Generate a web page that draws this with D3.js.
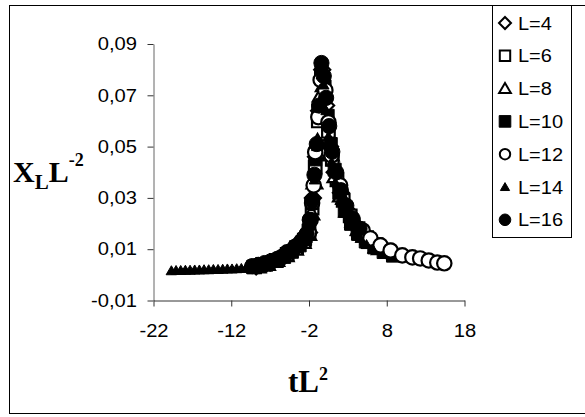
<!DOCTYPE html>
<html><head><meta charset="utf-8">
<script src="https://cdn.jsdelivr.net/npm/d3@7"></script>
<style>body{margin:0;background:#fff}svg{display:block}</style>
</head><body>
<svg id="c" width="585" height="417"></svg>
<script>
// ---------- data ----------
const xTicks = [-22, -12, -2, 8, 18];
const xTickLabels = ["-22", "-12", "-2", "8", "18"];
const yTicks = [-0.01, 0.01, 0.03, 0.05, 0.07, 0.09];
const yTickLabels = ["-0,01", "0,01", "0,03", "0,05", "0,07", "0,09"];
const seriesNames = ["L=4", "L=6", "L=8", "L=10", "L=12", "L=14", "L=16"];

const L4 = [[-8.8,.0033],[-7.0,.0048],[-5.2,.0072],[-3.8,.0100],[-2.7,.0128],[-2.0,.0165],[-1.5,.0300],[-1.1,.0460],[-0.7,.0640],[-0.3,.0800],[0.2,.0660],[0.7,.0500],[1.3,.0400],[2.1,.0320],[3.0,.0250],[4.1,.0190],[5.3,.0150],[6.6,.0118],[8.0,.0094]];
const L6 = [[-9.0,.0031],[-7.6,.0041],[-6.2,.0056],[-4.8,.0080],[-3.6,.0106],[-2.6,.0135],[-2.0,.0170],[-1.6,.0260],[-1.2,.0420],[-0.8,.0600],[-0.4,.0770],[0.0,.0700],[0.5,.0560],[1.0,.0450],[1.6,.0370],[2.4,.0290],[3.3,.0230],[4.3,.0180],[5.4,.0145],[6.6,.0118],[7.9,.0096]];
const L8 = [[-8.6,.0033],[-7.4,.0043],[-6.2,.0058],[-5.0,.0077],[-3.8,.0102],[-2.8,.0128],[-2.1,.0160],[-1.7,.0240],[-1.3,.0360],[-0.9,.0520],[-0.5,.0700],[-0.1,.0740],[0.3,.0620],[0.8,.0470],[1.4,.0385],[2.1,.0310],[2.9,.0250],[3.8,.0200],[4.8,.0160],[5.9,.0128],[7.1,.0104]];
const L10 = [[-9.2,.0030],[-8.2,.0036],[-7.2,.0045],[-6.2,.0056],[-5.2,.0070],[-4.2,.0090],[-3.2,.0115],[-2.5,.0140],[-2.0,.0175],[-1.6,.0280],[-1.2,.0450],[-0.8,.0640],[-0.4,.0790],[0.0,.0735],[0.4,.0620],[0.8,.0510],[1.3,.0410],[1.9,.0320],[2.6,.0250],[3.4,.0200],[4.3,.0160],[5.3,.0130],[6.4,.0107],[7.6,.0089],[8.8,.0075]];
const L12 = [[-4.8,.0088],[-3.8,.0108],[-3.0,.0130],[-2.4,.0150],[-2.0,.0165],[-1.8,.0213],[-1.6,.0280],[-1.4,.0349],[-1.2,.0478],[-0.8,.0615],[-0.5,.0760],[0.1,.0720],[0.5,.0595],[0.9,.0466],[2.0,.0349],[3.6,.0213],[4.9,.0173],[5.9,.0142],[7.2,.0115],[8.5,.0095],[10.0,.0076],[11.3,.0068],[12.3,.0064],[13.4,.0056],[14.5,.0048],[15.4,.0045]];
const L14 = [[-19.7,.0016],[-19.1,.0017],[-18.5,.0017],[-17.9,.0018],[-17.3,.0018],[-16.7,.0019],[-16.1,.0019],[-15.5,.0020],[-14.9,.0020],[-14.3,.0021],[-13.7,.0021],[-13.1,.0022],[-12.5,.0023],[-11.9,.0023],[-11.3,.0024],[-10.7,.0025],[-10.1,.0027],[-9.5,.0028],[-8.9,.0032],[-8.3,.0037],[-7.7,.0043],[-7.1,.0049],[-6.5,.0055],[-5.9,.0063],[-5.3,.0072],[-4.7,.0084],[-4.1,.0097],[-3.5,.0111],[-2.9,.0128],[-2.3,.0150],[-1.9,.0190],[-1.6,.0270],[-1.3,.0370],[-1.0,.0500],[-0.7,.0650],[-0.4,.0780],[-0.1,.0740],[0.2,.0640],[0.5,.0540],[0.9,.0440],[1.4,.0360],[2.0,.0290],[2.6,.0240],[3.2,.0200],[3.9,.0168],[4.6,.0142],[5.4,.0118],[6.2,.0100]];
const L16 = [[-9.3,.0034],[-8.5,.0039],[-7.7,.0046],[-6.9,.0053],[-6.1,.0062],[-5.3,.0074],[-4.5,.0090],[-3.7,.0110],[-2.9,.0134],[-2.3,.0160],[-1.9,.0215],[-1.6,.0290],[-1.3,.0390],[-1.0,.0510],[-0.7,.0660],[-0.4,.0826],[-0.1,.0775],[0.2,.0690],[0.6,.0580],[1.0,.0480],[1.5,.0400],[2.1,.0330],[2.8,.0270],[3.6,.0220],[4.5,.0180]];
const seriesData = [L4, L6, L8, L10, L12, L14, L16];

// ---------- styles ----------
const shapes = {
  diamond: r => `M0,${-r}L${r},0L0,${r}L${-r},0Z`,
  square: r => `M${-r},${-r}H${r}V${r}H${-r}Z`,
  triangle: r => `M0,${-r}L${r*1.05},${r*0.8}L${-r*1.05},${r*0.8}Z`,
  circle: r => `M${r},0A${r},${r} 0 1,1 ${-r},0A${r},${r} 0 1,1 ${r},0Z`
};
const styles = [
  {shape:"diamond", r:8, lr:6, fill:"#fff", sw:2.2},
  {shape:"square", r:6.3, lr:5.2, fill:"#fff", sw:2.2},
  {shape:"triangle", r:7.5, lr:5.6, fill:"#fff", sw:2.2},
  {shape:"square", r:6.5, lr:5.8, fill:"#000", sw:1},
  {shape:"circle", r:7.2, lr:5.2, fill:"#fff", sw:2.2},
  {shape:"triangle", r:5, lr:4.4, fill:"#000", sw:1},
  {shape:"circle", r:7.6, lr:5.8, fill:"#000", sw:1}
];

const svg = d3.select("#c");
const sans = "'Liberation Sans', Arial, Helvetica, sans-serif";
const serif = "'Liberation Serif', 'Times New Roman', serif";
function stretch(sel, f) {
  sel.each(function () {
    const w = this.getComputedTextLength();
    this.setAttribute("textLength", w * f);
    this.setAttribute("lengthAdjust", "spacingAndGlyphs");
  });
}

// frame
svg.append("rect").attr("x", 9.5).attr("y", 5.5).attr("width", 600).attr("height", 408)
  .attr("fill", "#fff").attr("stroke", "#000").attr("stroke-width", 1);

const x = d3.scaleLinear().domain([-22, 18]).range([153.5, 464.5]);
const y = d3.scaleLinear().domain([-0.01, 0.09]).range([300.5, 44]);

// axes
const gy = svg.append("g").attr("transform", `translate(${x(-22)},0)`)
  .call(d3.axisLeft(y).tickValues(yTicks).tickFormat((d, i) => yTickLabels[i]).tickSize(6).tickSizeOuter(0).tickPadding(10.5));
const gx = svg.append("g").attr("transform", `translate(0,${y(-0.01)})`)
  .call(d3.axisBottom(x).tickValues(xTicks).tickFormat((d, i) => xTickLabels[i]).tickSize(6).tickSizeOuter(0));
[gx, gy].forEach(g => {
  g.selectAll("path,line").attr("stroke", "#333").attr("stroke-width", 1);
  g.selectAll("text").attr("fill", "#000").style("font-family", sans).style("font-size", "18px");
});
gy.select(".domain").attr("stroke", "#666");
gx.selectAll("text").attr("y", 36.5).attr("dy", 0);
stretch(gx.selectAll("text"), 1.12);
stretch(gy.selectAll("text"), 1.12);

// marks
seriesData.forEach((arr, i) => {
  const st = styles[i];
  svg.append("g").selectAll("path").data(arr).join("path")
    .attr("d", shapes[st.shape](st.r))
    .attr("transform", d => `translate(${x(d[0])},${y(d[1])})`)
    .attr("fill", st.fill).attr("stroke", "#000").attr("stroke-width", st.sw);
});

// axis titles
const yt = svg.append("text").attr("x", 13).attr("y", 182)
  .style("font-family", serif).style("font-weight", "bold").attr("fill", "#000");
yt.append("tspan").style("font-size", "30px").text("X");
yt.append("tspan").style("font-size", "21px").attr("dy", 7).text("L");
yt.append("tspan").style("font-size", "30px").attr("dy", -7).text("L");
yt.append("tspan").style("font-size", "18px").attr("dy", -16).text("-2");

const xt = svg.append("text").attr("x", 288).attr("y", 392)
  .style("font-family", serif).style("font-weight", "bold").attr("fill", "#000");
xt.append("tspan").style("font-size", "31px").text("tL");
xt.append("tspan").style("font-size", "18px").attr("dy", -12).text("2");

// legend
const lg = svg.append("g");
lg.append("rect").attr("x", 492.5).attr("y", 5.5).attr("width", 79).attr("height", 232)
  .attr("fill", "#fff").attr("stroke", "#000").attr("stroke-width", 1);
seriesNames.forEach((name, i) => {
  const st = styles[i];
  const cy = 23 + i * 32.8;
  lg.append("path").attr("d", shapes[st.shape](st.lr))
    .attr("transform", `translate(505,${cy})`)
    .attr("fill", st.fill).attr("stroke", "#000").attr("stroke-width", st.sw === 1 ? 1 : 2);
  const t = lg.append("text").attr("x", 518).attr("y", cy + 6.5)
    .style("font-family", sans).style("font-size", "18px").attr("fill", "#000").text(name);
  stretch(t, 1.11);
});
</script>
</body></html>
